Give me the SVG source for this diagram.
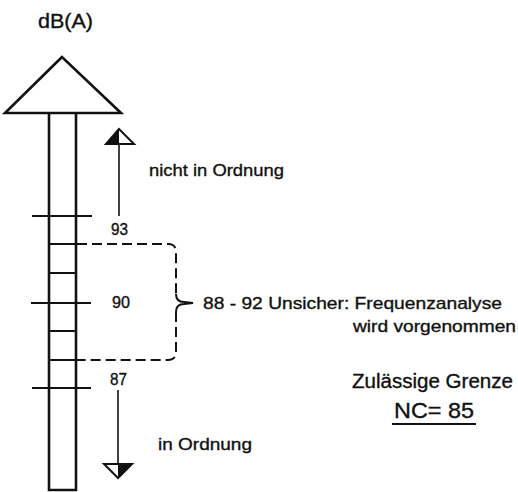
<svg xmlns="http://www.w3.org/2000/svg" width="518" height="492" viewBox="0 0 518 492">
<style>
.t{font-family:"Liberation Sans",Arial,sans-serif;fill:#111;stroke:#111;stroke-width:0.35}
.ln{stroke:#111;fill:none;stroke-linecap:butt}
</style>
<rect width="518" height="492" fill="#fff"/>
<g id="scale">
<polygon points="62,57 5,113 121,113" fill="#fff" stroke="#111" stroke-width="2.6" stroke-linejoin="miter"/>
<path class="ln" stroke-width="2.6" d="M49,113 V490 H76 V113"/>
<path class="ln" stroke-width="2" d="M32,216 H92 M49,244 H76 M49,273 H76 M31,303 H91 M49,331 H76 M49,360 H76 M32,388 H91"/>
</g>
<g id="connectors">
<path class="ln" stroke-width="1.6" d="M119,144 V216"/>
<polygon points="119,129 106,144 134,144" fill="#fff" stroke="#111" stroke-width="2"/>
<polygon points="119,129 106,144 119,144" fill="#111"/>
<path class="ln" stroke-width="1.6" d="M118,390 V464"/>
<polygon points="104,464 132,464 118,478" fill="#fff" stroke="#111" stroke-width="2"/>
<polygon points="118,464 132,464 118,478" fill="#111"/>
<path class="ln" stroke-width="2" stroke-dasharray="10 5" d="M77,244 H168 Q176,244 176,252 V294"/>
<path class="ln" stroke-width="2" d="M176,294 Q176,302 184,302 L193,303 L184,304 Q176,304 176,312"/>
<path class="ln" stroke-width="2" stroke-dasharray="10 5" d="M176,312 V352 Q176,360 168,360 H77"/>
<path class="ln" stroke-width="2" d="M392,424 H476"/>
</g>
<g id="labels">
<text class="t" x="38" y="28" font-size="20" textLength="55" lengthAdjust="spacingAndGlyphs">dB(A)</text>
<text class="t" x="149" y="176" font-size="17" textLength="135" lengthAdjust="spacingAndGlyphs">nicht in Ordnung</text>
<text class="t" x="111" y="235" font-size="16" textLength="17" lengthAdjust="spacingAndGlyphs">93</text>
<text class="t" x="112" y="308" font-size="16" textLength="18" lengthAdjust="spacingAndGlyphs">90</text>
<text class="t" x="110" y="385" font-size="16" textLength="17" lengthAdjust="spacingAndGlyphs">87</text>
<text class="t" x="158" y="450" font-size="17" textLength="94" lengthAdjust="spacingAndGlyphs">in Ordnung</text>
<text class="t" x="203" y="309" font-size="17" textLength="299" lengthAdjust="spacingAndGlyphs">88 - 92 Unsicher: Frequenzanalyse</text>
<text class="t" x="353" y="332" font-size="17" textLength="163" lengthAdjust="spacingAndGlyphs">wird vorgenommen</text>
<text class="t" x="352" y="388" font-size="20" textLength="161" lengthAdjust="spacingAndGlyphs">Zulässige Grenze</text>
<text class="t" x="394" y="418" font-size="22" textLength="80" lengthAdjust="spacingAndGlyphs">NC= 85</text>
</g>
</svg>
